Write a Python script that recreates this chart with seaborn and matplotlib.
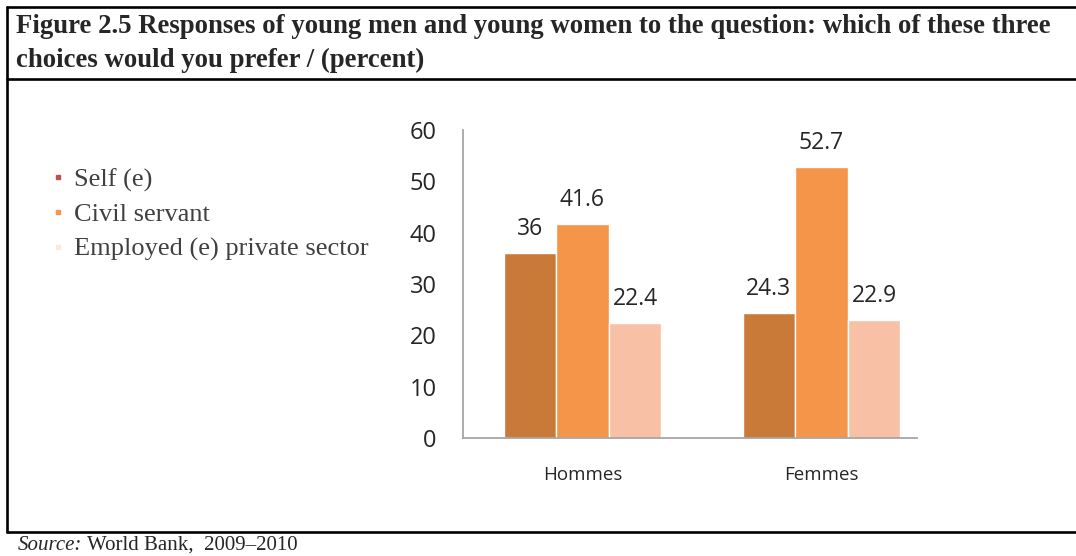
import pandas as pd
import seaborn as sns
import matplotlib.pyplot as plt
from matplotlib.lines import Line2D

# --- DATA ---
groups = ["Hommes", "Femmes"]
choices = ["Self (e)", "Civil servant", "Employed (e) private sector"]
self_vals = [36, 24.3]
civil_vals = [41.6, 52.7]
private_vals = [22.4, 22.9]
y_ticks = [0, 10, 20, 30, 40, 50, 60]

bar_colors = ["#C97A38", "#F4954A", "#F8C1A6"]
legend_colors = ["#C0504D", "#F79646", "#FDE9D9"]

df = pd.DataFrame({
    "group": groups * 3,
    "choice": [c for c in choices for _ in groups],
    "value": self_vals + civil_vals + private_vals,
})

sns.set_style("white")
plt.rcParams["font.family"] = ["Open Sans", "DejaVu Sans"]

W, H = 1076, 556
fig = plt.figure(figsize=(W / 100, H / 100), dpi=100)


def fx(px):
    return px / W


def fy(py):
    return 1 - py / H


# --- FRAME LINES ---
for y in (7, 79, 532):
    fig.add_artist(Line2D([fx(7), 1], [fy(y), fy(y)], color="black", lw=1.9,
                          transform=fig.transFigure))
fig.add_artist(Line2D([fx(7), fx(7)], [fy(7), fy(532)], color="black", lw=1.9,
                      transform=fig.transFigure))

# --- TITLE ---
serif = ["Liberation Serif", "DejaVu Serif"]
fig.text(fx(16), fy(33), "Figure 2.5 Responses of young men and young women to the question: which of these three",
         family=serif, weight="bold", fontsize=19.3, va="baseline", ha="left")
fig.text(fx(16), fy(67), "choices would you prefer / (percent)",
         family=serif, weight="bold", fontsize=19.3, va="baseline", ha="left")

# --- SOURCE ---
src = fig.text(fx(18), fy(550), "Source:", family=serif, style="italic", fontsize=15, va="baseline")
renderer = fig.canvas.get_renderer()
x_end = src.get_window_extent(renderer).x1
fig.text(x_end / W + fx(5), fy(550), "World Bank,  2009\u20132010", family=serif, fontsize=15, va="baseline")

# --- CHART ---
ax = fig.add_axes([fx(463), fy(438), fx(917) - fx(463), fy(130) - fy(438)])
sns.barplot(data=df, x="group", y="value", hue="choice", order=groups, hue_order=choices,
            palette=bar_colors, saturation=1, width=0.66, legend=False, ax=ax)

for cont in ax.containers:
    ax.bar_label(cont, fmt="{:g}", padding=9, fontsize=16.5, color="#262626")

ax.set_xlim(-0.5, 1.4)
ax.set_ylim(0, 60)
ax.set_yticks(y_ticks)
ax.set_xlabel("")
ax.set_ylabel("")
sns.despine(ax=ax)
grey = "#A6A6A6"
for s in ("left", "bottom"):
    ax.spines[s].set_color(grey)
    ax.spines[s].set_linewidth(1.3)
ax.tick_params(axis="y", length=6, width=1.2, color=grey, pad=13, labelsize=17, labelcolor="#262626")
ax.tick_params(axis="x", which="major", length=0, pad=20, labelsize=13.5, labelcolor="#262626")
ax.set_xticks([-0.5, 0.5], minor=True)
ax.tick_params(axis="x", which="minor", length=6, width=1.2, color=grey)

# --- LEGEND ---
handles = [Line2D([], [], marker="s", linestyle="", markersize=3.5, color=c) for c in legend_colors]
fig.legend(handles, choices, loc="upper left", bbox_to_anchor=(fx(52), fy(168)),
           frameon=False, handlelength=0.45, handletextpad=0.4, labelspacing=0.42,
           borderaxespad=0, borderpad=0,
           prop={"family": serif, "size": 19}, labelcolor="#404040")

plt.savefig("out.png", dpi=100)
